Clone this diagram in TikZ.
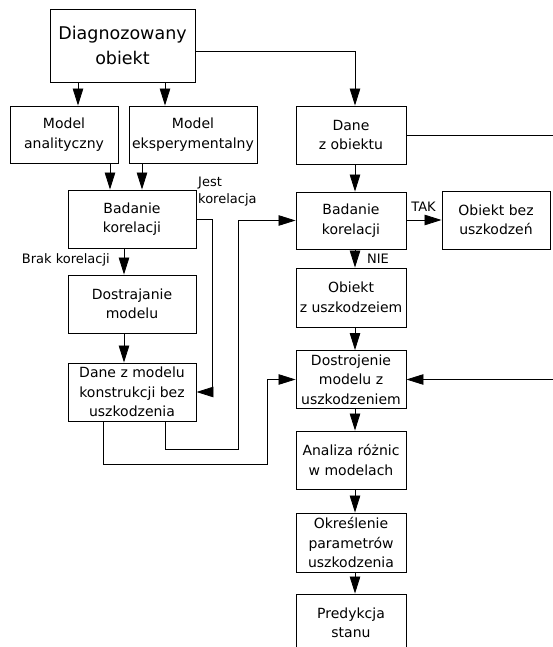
\documentclass[tikz,border=0pt]{standalone}
\usepackage{fontspec}
\setmainfont{DejaVu Sans}
\usetikzlibrary{arrows.meta}

\begin{document}
\begin{tikzpicture}[x=1pt, y=-1pt,
  box/.style={rectangle, draw, line width=0.9pt, inner sep=0pt, align=center, font=\fontsize{14}{19.5}\selectfont},
  arr/.style={-{Triangle[length=17pt, width=10.5pt]}, line width=0.8pt},
  lbl/.style={font=\fontsize{13}{17}\selectfont, inner sep=0pt}]
\useasboundingbox (0,0) rectangle (552,647);

% Left column
\node[box, minimum width=145pt, minimum height=73pt, font=\fontsize{17.5}{24.5}\selectfont] (diag) at (122.5,45.5) {Diagnozowany\\obiekt};
\node[box, minimum width=108pt, minimum height=57pt] (manal) at (64,134.5) {Model\\analityczny};
\node[box, minimum width=128pt, minimum height=57pt] (meksp) at (193,134.5) {Model\\eksperymentalny};
\node[box, minimum width=128pt, minimum height=58pt] (badL) at (132,219) {Badanie\\korelacji};
\node[box, minimum width=128pt, minimum height=58pt] (dostr) at (132,304) {Dostrajanie\\modelu};
\node[box, minimum width=128pt, minimum height=58pt] (danem) at (132,392) {Dane z modelu\\konstrukcji bez\\uszkodzenia};

% Right column
\node[box, minimum width=110pt, minimum height=58pt] (daneo) at (351,135) {Dane\\z obiektu};
\node[box, minimum width=110pt, minimum height=57pt] (badR) at (351,220.5) {Badanie\\korelacji};
\node[box, minimum width=108pt, minimum height=58pt] (obez) at (496,220) {Obiekt bez\\uszkodzeń};
\node[box, minimum width=110pt, minimum height=59pt] (obz) at (351,297.5) {Obiekt\\z uszkodzeiem};
\node[box, minimum width=110pt, minimum height=58pt] (dostrR) at (351,379.5) {Dostrojenie\\modelu z\\uszkodzeniem};
\node[box, minimum width=110pt, minimum height=58pt] (analiza) at (351,460) {Analiza różnic\\w modelach};
\node[box, minimum width=110pt, minimum height=59pt] (okr) at (351,542.5) {Określenie\\parametrów\\uszkodzenia};
\node[box, minimum width=110pt, minimum height=58pt] (pred) at (351,623) {Predykcja\\stanu};

% Labels
\node[lbl, anchor=north west, align=left] (jest) at (198,177) {Jest\\korelacja};
\node[lbl, anchor=east] (brak) at (110,260) {Brak korelacji};
\node[lbl] (tak) at (423.5,207) {TAK};
\node[lbl] (nie) at (378,259) {NIE};

% Bend points
\coordinate (j1) at (238,449);
\coordinate (j2) at (267,464);
\coordinate (j3) at (562,135);

% Arrows
\draw[arr] ([xshift=-44.5]diag.south) -- ([xshift=14]manal.north);
\draw[arr] ([xshift=42.5]diag.south) -- ([xshift=-28]meksp.north);
\draw[arr] ([xshift=46]manal.south) -- ([xshift=-22]badL.north);
\draw[arr] ([xshift=-51]meksp.south) -- ([xshift=10]badL.north);
\draw[arr] ([xshift=-8]badL.south) -- ([xshift=-8]dostr.north);
\draw[arr] ([xshift=-8]dostr.south) -- ([xshift=-8]danem.north);
\draw[arr] (badL.east) -- ++(16,0) |- (danem.east);
\draw[arr] ([xshift=33]danem.south) |- (j1) |- (badR.west);
\draw[arr] ([xshift=-29]danem.south) |- (j2) |- (dostrR.west);

\draw[arr] ([yshift=-6]diag.east) -| ([xshift=4]daneo.north);
\draw[arr] ([xshift=4]daneo.south) -- ([xshift=4]badR.north);
\draw[arr] (badR.east |- obez.east) -- (obez.west);
\draw[arr] ([xshift=4]badR.south) -- ([xshift=4]obz.north);
\draw[arr] ([xshift=4]obz.south) -- ([xshift=4]dostrR.north);
\draw[arr] (daneo.east) -- (j3) |- (dostrR.east);
\draw[arr] ([xshift=4]dostrR.south) -- ([xshift=4]analiza.north);
\draw[arr] ([xshift=4]analiza.south) -- ([xshift=4]okr.north);
\draw[arr] ([xshift=4]okr.south) -- ([xshift=4]pred.north);
\end{tikzpicture}
\end{document}
